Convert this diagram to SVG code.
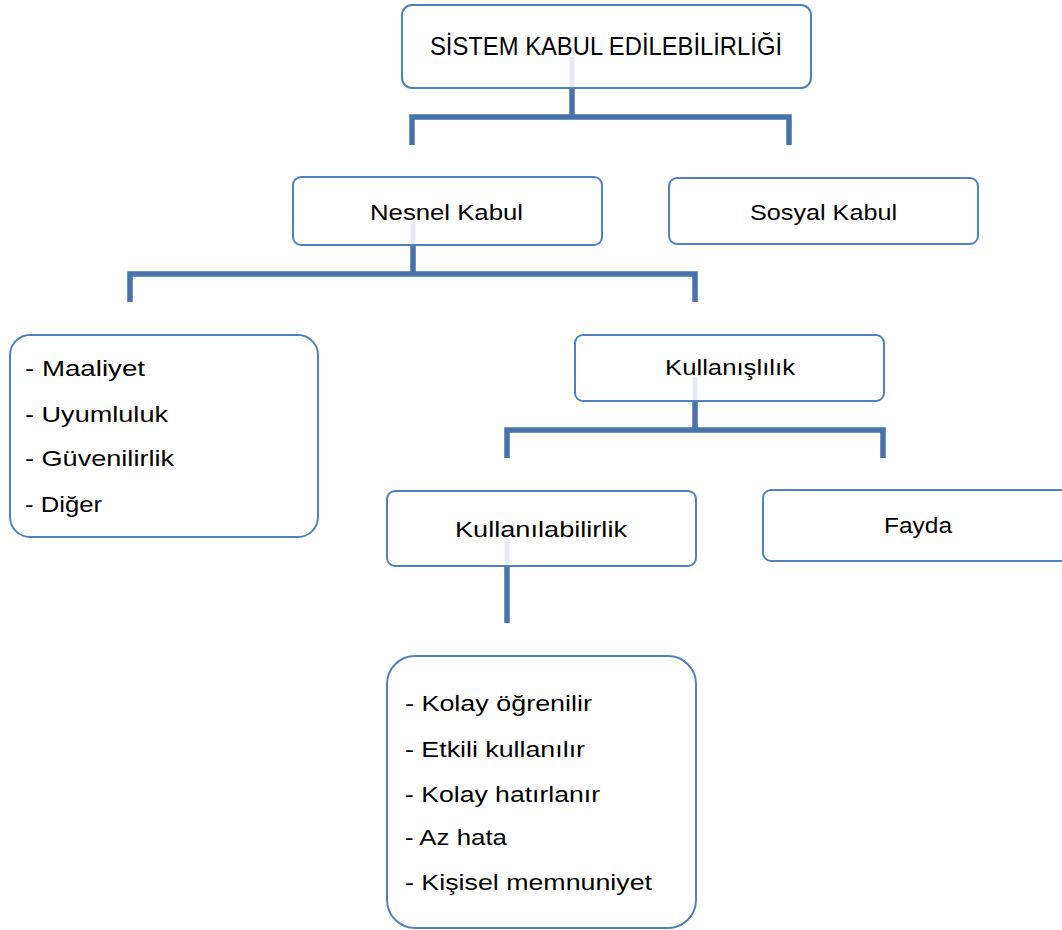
<svg xmlns="http://www.w3.org/2000/svg" width="1062" height="930" viewBox="0 0 1062 930">
<style>
.box{fill:#ffffff;stroke:#4f81bd;stroke-width:2}
.t{font-family:"Liberation Sans",Arial,sans-serif;font-size:22px;fill:#000000}
.conn{fill:none;stroke:#4872aa;stroke-width:5.5;stroke-linejoin:miter;stroke-linecap:butt}
.faint{fill:none;stroke:#e6ebf3;stroke-width:5}
</style>
<rect width="1062" height="930" fill="#ffffff"/>
<g id="connectors">
<path class="conn" d="M572,88 V117 M412,145 V117 H789 V145"/>
<path class="conn" d="M413,245 V274 M130,302 V274 H695 V302"/>
<path class="conn" d="M695,401 V430 M507,458 V430 H883 V458"/>
<path class="conn" d="M507,566 V623"/>
</g>
<g id="n-sistem">
<rect class="box" x="402" y="5" width="409" height="83" rx="10"/>
<text class="t" x="430" y="55" style="font-size:25px" textLength="352" lengthAdjust="spacingAndGlyphs">SİSTEM KABUL EDİLEBİLİRLİĞİ</text>
<line class="faint" x1="572" y1="57" x2="572" y2="87"/>
</g>
<g id="n-nesnel">
<rect class="box" x="293" y="177" width="309" height="68" rx="8"/>
<text class="t" x="370" y="220" textLength="153" lengthAdjust="spacingAndGlyphs">Nesnel Kabul</text>
<line class="faint" x1="413" y1="222" x2="413" y2="244"/>
</g>
<g id="n-sosyal">
<rect class="box" x="669" y="178" width="309" height="66" rx="8"/>
<text class="t" x="750" y="220" textLength="147" lengthAdjust="spacingAndGlyphs">Sosyal Kabul</text>
</g>
<g id="n-nesnel-list">
<rect class="box" x="10" y="335" width="308" height="202" rx="20"/>
<text class="t" x="25" y="376" textLength="120" lengthAdjust="spacingAndGlyphs">- Maaliyet</text>
<text class="t" x="25" y="422" textLength="143" lengthAdjust="spacingAndGlyphs">- Uyumluluk</text>
<text class="t" x="25" y="466" textLength="149" lengthAdjust="spacingAndGlyphs">- Güvenilirlik</text>
<text class="t" x="25" y="512" textLength="77" lengthAdjust="spacingAndGlyphs">- Diğer</text>
</g>
<g id="n-kullanislilik">
<rect class="box" x="575" y="335" width="309" height="66" rx="8"/>
<text class="t" x="665" y="375" textLength="130" lengthAdjust="spacingAndGlyphs">Kullanışlılık</text>
<line class="faint" x1="695" y1="377" x2="695" y2="400"/>
</g>
<g id="n-kullanilabilirlik">
<rect class="box" x="387" y="491" width="309" height="75" rx="8"/>
<text class="t" x="455" y="537" textLength="172" lengthAdjust="spacingAndGlyphs">Kullanılabilirlik</text>
<line class="faint" x1="507" y1="539" x2="507" y2="565"/>
</g>
<g id="n-fayda">
<rect class="box" x="763" y="490" width="320" height="71" rx="8"/>
<text class="t" x="884" y="533" textLength="68" lengthAdjust="spacingAndGlyphs">Fayda</text>
</g>
<g id="n-kullanilabilirlik-list">
<rect class="box" x="387" y="656" width="309" height="272" rx="28"/>
<text class="t" x="405" y="711" textLength="187" lengthAdjust="spacingAndGlyphs">- Kolay öğrenilir</text>
<text class="t" x="405" y="757" textLength="180" lengthAdjust="spacingAndGlyphs">- Etkili kullanılır</text>
<text class="t" x="405" y="802" textLength="195" lengthAdjust="spacingAndGlyphs">- Kolay hatırlanır</text>
<text class="t" x="405" y="845" textLength="102" lengthAdjust="spacingAndGlyphs">- Az hata</text>
<text class="t" x="405" y="890" textLength="247" lengthAdjust="spacingAndGlyphs">- Kişisel memnuniyet</text>
</g>
</svg>
